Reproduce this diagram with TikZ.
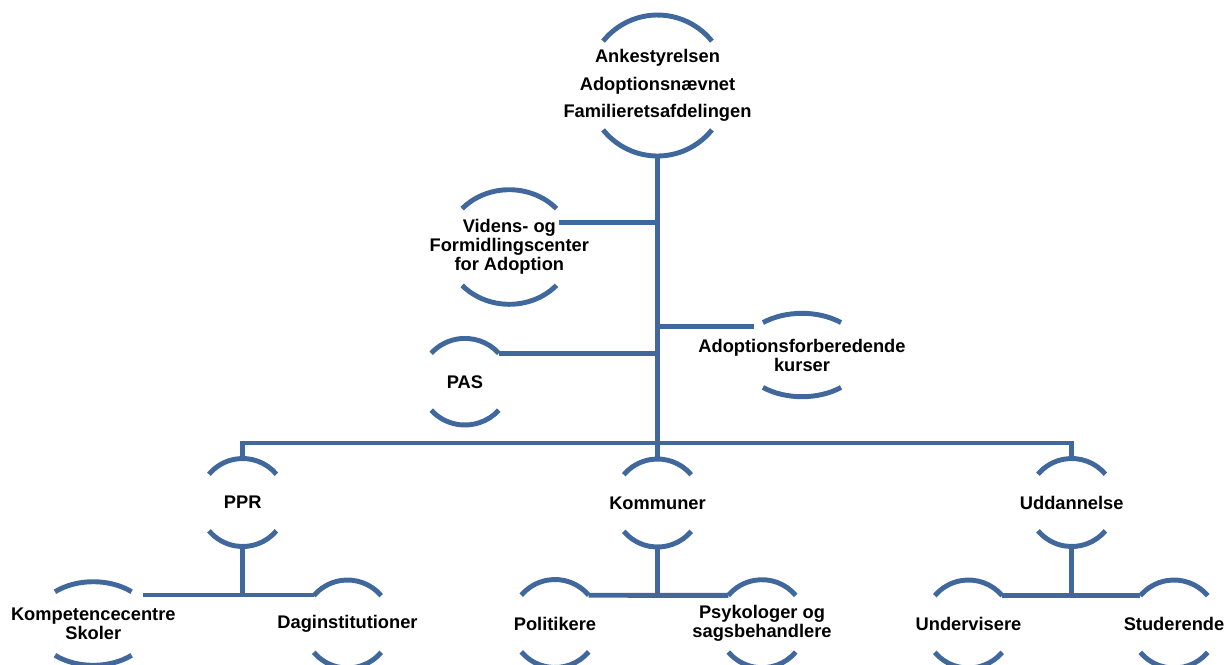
\documentclass[tikz,border=0pt]{standalone}
\usepackage{fontspec}
\setmainfont{Liberation Sans}
\usepackage{xcolor}
\usepackage{tikz}
\usetikzlibrary{calc}
\definecolor{smartblue}{RGB}{64,104,156}

% the two bracket arcs above and below a label: node, x radius, y radius, cut angle
\newcommand{\rims}[4]{%
	\coordinate (#1-n) at ([shift={(0,#3)}]#1.center);
	\coordinate (#1-s) at ([shift={(0,-#3)}]#1.center);
	\coordinate (#1-ne) at ([shift={({#2*cos(#4)},{#3*sin(#4)})}]#1.center);
	\coordinate (#1-nw) at ([shift={({-#2*cos(#4)},{#3*sin(#4)})}]#1.center);
	\coordinate (#1-se) at ([shift={({#2*cos(#4)},{-#3*sin(#4)})}]#1.center);
	\draw[rim] (#1-ne) arc[start angle=#4, end angle={180-#4}, x radius=#2*0.02cm, y radius=#3*0.02cm];
	\draw[rim] (#1-se) arc[start angle=-#4, end angle={-180+#4}, x radius=#2*0.02cm, y radius=#3*0.02cm];
}

\begin{document}
\begin{tikzpicture}[x=0.02cm, y=0.02cm]
	\tikzstyle{rim}=[draw=smartblue, line width=2.8pt]
	
	\tikzstyle{link}=[draw=smartblue, line width=2.8pt]
	
	\tikzstyle{boxtext}=[align=center, inner sep=0pt, text=black, font=\bfseries\fontsize{10.4}{10.8}\selectfont]
	
	\useasboundingbox (0,0) rectangle (1226,-664);
	\clip (0,0) rectangle (1226,-664);
	
	%% top of the chart
	\node [boxtext, font=\bfseries\fontsize{10.4}{15.6}\selectfont] (Top) at (657.5,-85.5) {Ankestyrelsen\\Adoptionsnævnet\\Familieretsafdelingen};
	\rims{Top}{70}{70.5}{39}
	
	\node [boxtext] (VFC) at (509.3,-247) {Videns- og\\Formidlingscenter\\for Adoption};
	\rims{VFC}{63.5}{57.3}{42}
	\node [boxtext] (PAS) at (465,-381.7) {PAS};
	\rims{PAS}{44.8}{43.3}{41}
	\node [boxtext] (AFK) at (802,-355) {Adoptionsforberedende\\kurser};
	\rims{AFK}{62}{41.7}{51}
	
	%% second row
	\node [boxtext] (PPR) at (242.7,-502.5) {PPR};
	\rims{PPR}{44}{44}{40}
	\node [boxtext] (KOM) at (657.5,-503) {Kommuner};
	\rims{KOM}{44}{44}{40}
	\node [boxtext] (UDD) at (1071.7,-502.5) {Uddannelse};
	\rims{UDD}{44}{44}{40}
	
	%% bottom row
	\node [boxtext] (KSK) at (93.3,-623.5) {Kompetencecentre\\Skoler};
	\rims{KSK}{59}{41.8}{49.5}
	\node [boxtext] (DAG) at (347.5,-624) {Daginstitutioner};
	\rims{DAG}{44}{44}{40}
	\node [boxtext] (POL) at (555,-623.5) {Politikere};
	\rims{POL}{44}{44}{40}
	\node [boxtext] (PSY) at (762,-623.7) {Psykologer og\\sagsbehandlere};
	\rims{PSY}{44}{44}{40}
	\node [boxtext] (UND) at (968.5,-624) {Undervisere};
	\rims{UND}{44}{44}{40}
	\node [boxtext] (STU) at (1174,-624) {Studerende};
	\rims{STU}{44}{44}{40}
	
	%% connectors
	\coordinate (bus) at (657.5,-443);
	\coordinate (VFC-r) at ($(VFC-ne)+(3,-14)$);
	\coordinate (AFK-l) at ($(AFK-nw)+(-9,-3.5)$);
	\coordinate (KSK-r) at ($(KSK-ne)+(11.4,-3.3)$);
	
	\draw [link] (Top-s) -- (bus);
	\draw [link] (PPR-n) |- (bus) -| (UDD-n);
	\draw [link] (bus) -- (KOM-n);
	\draw [link] (VFC-r) -- (VFC-r -| Top-s);
	\draw [link] (PAS-ne) -- (PAS-ne -| Top-s);
	\draw [link] (AFK-l) -- (AFK-l -| Top-s);
	
	\draw [link] (PPR-s) -- (PPR-s |- KSK-r);
	\draw [link] (KSK-r) -- (KSK-r -| DAG-nw);
	\draw [link] (KOM-s) -- (KOM-s |- POL-ne);
	\draw [link] (POL-ne) -- (PSY-nw);
	\draw [link] (UDD-s) -- (UDD-s |- UND-ne);
	\draw [link] (UND-ne) -- (STU-nw);
\end{tikzpicture}
\end{document}
